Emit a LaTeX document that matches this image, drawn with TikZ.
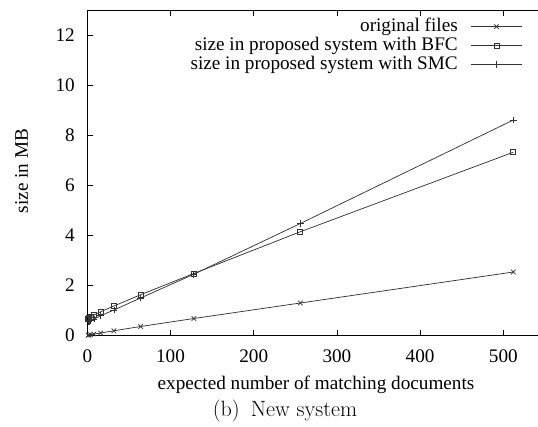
\documentclass[tikz,border=0pt]{standalone}
\usepackage{fontspec}
\newfontfamily\tnr{Liberation Serif}
\usetikzlibrary{plotmarks}
\tikzset{
  frameline/.style={line width=0.6pt, black},
  tickline/.style={line width=0.6pt, black},
  dataline/.style={line width=0.55pt, black!80},
  lbl/.style={font=\tnr\fontsize{14.4}{17}\selectfont, inner sep=0pt},
  mkx/.style={mark=x, mark size=2.4pt},
  mksq/.style={mark=square, mark size=1.9pt},
  mkplus/.style={mark=+, mark size=2.6pt},
}
\begin{document}
\begin{tikzpicture}[x=0.75pt,y=-0.75pt]
\useasboundingbox (0,0) rectangle (538,426);
% plot area
\begin{scope}[shift={(87.3,335.5)}, x=0.624pt, y=18.75pt]
  \coordinate (o) at (0,0);
  \coordinate (tl) at (0,13);
  \coordinate (br) at (545,0);
  \coordinate (tr) at (545,13);
  \draw[frameline] (tl) -- (o) -- (br);
  \draw[frameline] (tl) -- (tr);
  \foreach \v in {0,2,...,12} {
    \draw[tickline] (0,\v) -- ++(4.1pt,0);
    \node[lbl, anchor=east] (yl\v) at ([xshift=-9.2pt]0,\v) {\v};
  }
  \foreach \v in {0,100,...,500} {
    \draw[tickline] (\v,0) -- ++(0,4.1pt);
    \draw[tickline] (\v,13) -- ++(0,-4.1pt);
    \node[lbl, anchor=base] (xl\v) at ([yshift=-19.9pt]\v,0) {\v};
  }
  % original files
  \draw[dataline] plot[mkx] coordinates {(1,0.01) (2,0.02) (4,0.03) (8,0.06) (16,0.1) (32,0.19) (64,0.36) (128,0.68) (256,1.3) (512,2.54)};
  % BFC
  \draw[dataline] plot[mksq] coordinates {(1,0.68) (2,0.70) (4,0.74) (8,0.82) (16,0.95) (32,1.18) (64,1.63) (128,2.48) (256,4.15) (512,7.33)};
  % SMC
  \draw[dataline] plot[mkplus] coordinates {(1,0.55) (2,0.57) (4,0.6) (8,0.66) (16,0.79) (32,1.02) (64,1.5) (128,2.45) (256,4.48) (512,8.62)};
\end{scope}
% legend
\node[lbl, anchor=east] (l1) at (458,26.7) {original files};
\node[lbl, anchor=east] (l2) at (458,45.7) {size in proposed system with BFC};
\node[lbl, anchor=east] (l3) at (458,64.5) {size in proposed system with SMC};
\coordinate (a1) at (471,26.7); \coordinate (b1) at (522,26.7); \coordinate (m1) at (496.5,26.7);
\coordinate (a2) at (471,45.7); \coordinate (b2) at (522,45.7); \coordinate (m2) at (496.5,45.7);
\coordinate (a3) at (471,64.5); \coordinate (b3) at (522,64.5); \coordinate (m3) at (496.5,64.5);
\draw[dataline] (a1) -- (b1);
\draw[dataline] (a2) -- (b2);
\draw[dataline] (a3) -- (b3);
\draw[dataline] plot[mkx] coordinates {(m1)};
\draw[dataline] plot[mksq] coordinates {(m2)};
\draw[dataline] plot[mkplus] coordinates {(m3)};
% axis labels
\node[lbl, rotate=90] (ylab) at (21.5,171) {size in MB};
\node[lbl, anchor=base] (xlab) at (316,389) {expected number of matching documents};
\node[inner sep=0pt, anchor=base, font=\fontsize{16.6}{19}\selectfont] (cap) at (285,416.2) {(b)\hspace{0.5em}New system};
\end{tikzpicture}
\end{document}
